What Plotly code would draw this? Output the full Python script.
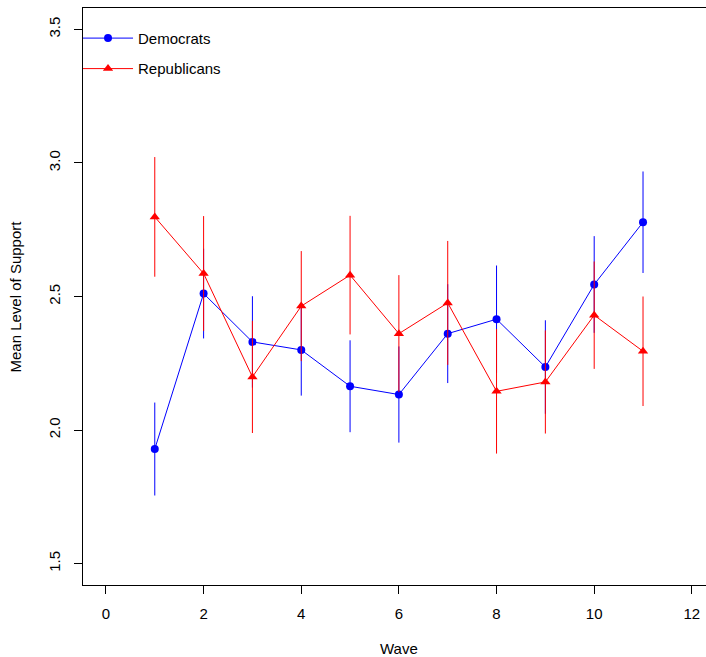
import plotly.graph_objects as go

waves = [1, 2, 3, 4, 5, 6, 7, 8, 9, 10, 11]
dem_mean = [1.929, 2.511, 2.330, 2.300, 2.164, 2.133, 2.361, 2.415, 2.236, 2.545, 2.778]
dem_err = [0.174, 0.168, 0.171, 0.171, 0.172, 0.180, 0.185, 0.201, 0.175, 0.181, 0.190]
rep_mean = [2.798, 2.586, 2.199, 2.464, 2.580, 2.361, 2.476, 2.145, 2.180, 2.430, 2.295]
rep_err = [0.224, 0.215, 0.210, 0.206, 0.222, 0.219, 0.232, 0.233, 0.193, 0.201, 0.205]
x_ticks = [0, 2, 4, 6, 8, 10, 12]
y_ticks = [1.5, 2.0, 2.5, 3.0, 3.5]

FONT = "Liberation Sans, Arial, Helvetica, sans-serif"

fig = go.Figure()
fig.add_trace(go.Scatter(
    x=waves, y=dem_mean, name="Democrats", mode="lines+markers",
    line=dict(color="rgb(0,0,255)", width=1),
    marker=dict(symbol="circle", size=8, color="rgb(0,0,255)"),
    error_y=dict(type="data", array=dem_err, visible=True, width=0,
                 thickness=1, color="rgb(0,0,255)"),
    legendgroup="d", hoverinfo="skip",
))
fig.add_trace(go.Scatter(
    x=waves, y=rep_mean, name="Republicans", mode="lines+markers",
    line=dict(color="rgb(255,0,0)", width=1),
    marker=dict(symbol="triangle-up", size=9, color="rgb(255,0,0)"),
    error_y=dict(type="data", array=rep_err, visible=True, width=0,
                 thickness=1, color="rgb(255,0,0)"),
    legendgroup="r", hoverinfo="skip",
))

fig.update_layout(
    width=706, height=657,
    margin=dict(l=83, r=0, t=8, b=72, autoexpand=False),
    paper_bgcolor="white", plot_bgcolor="white",
    font=dict(family=FONT, size=15, color="black"),
    hovermode=False,
    showlegend=True,
    legend=dict(x=-0.008, y=0.976, xanchor="left", yanchor="top",
                bgcolor="rgba(0,0,0,0)", font=dict(size=15),
                itemwidth=50, tracegroupgap=8, traceorder="grouped"),
    xaxis=dict(range=[-0.47, 12.29], tickvals=x_ticks, ticktext=[str(v) for v in x_ticks],
               showgrid=False, zeroline=False, showline=True, linecolor="black",
               linewidth=1, mirror=True, ticks="outside", ticklen=8, tickcolor="black",
               tickwidth=1, ticklabelstandoff=7, automargin=False),
    yaxis=dict(range=[1.42, 3.58], tickvals=y_ticks, ticktext=[f"{v:.1f}" for v in y_ticks],
               showgrid=False, zeroline=False, showline=True, linecolor="black",
               linewidth=1, mirror=False, ticks="outside", ticklen=8, tickcolor="black",
               tickwidth=1, tickangle=-90, ticklabelstandoff=8, automargin=False),
    annotations=[
        dict(text="Wave", xref="x", yref="paper", x=6, y=0, yshift=-63,
             xanchor="center", yanchor="middle", showarrow=False,
             font=dict(size=15)),
        dict(text="Mean Level of Support", xref="paper", yref="paper", x=0, y=0.5,
             xshift=-68, xanchor="center", yanchor="middle", textangle=-90,
             showarrow=False, font=dict(size=15)),
    ],
)

fig.write_html(
    "out.html",
    config={"displayModeBar": False, "staticPlot": True},
    post_script="document.body.style.margin='0';document.body.style.overflow='hidden';",
)
